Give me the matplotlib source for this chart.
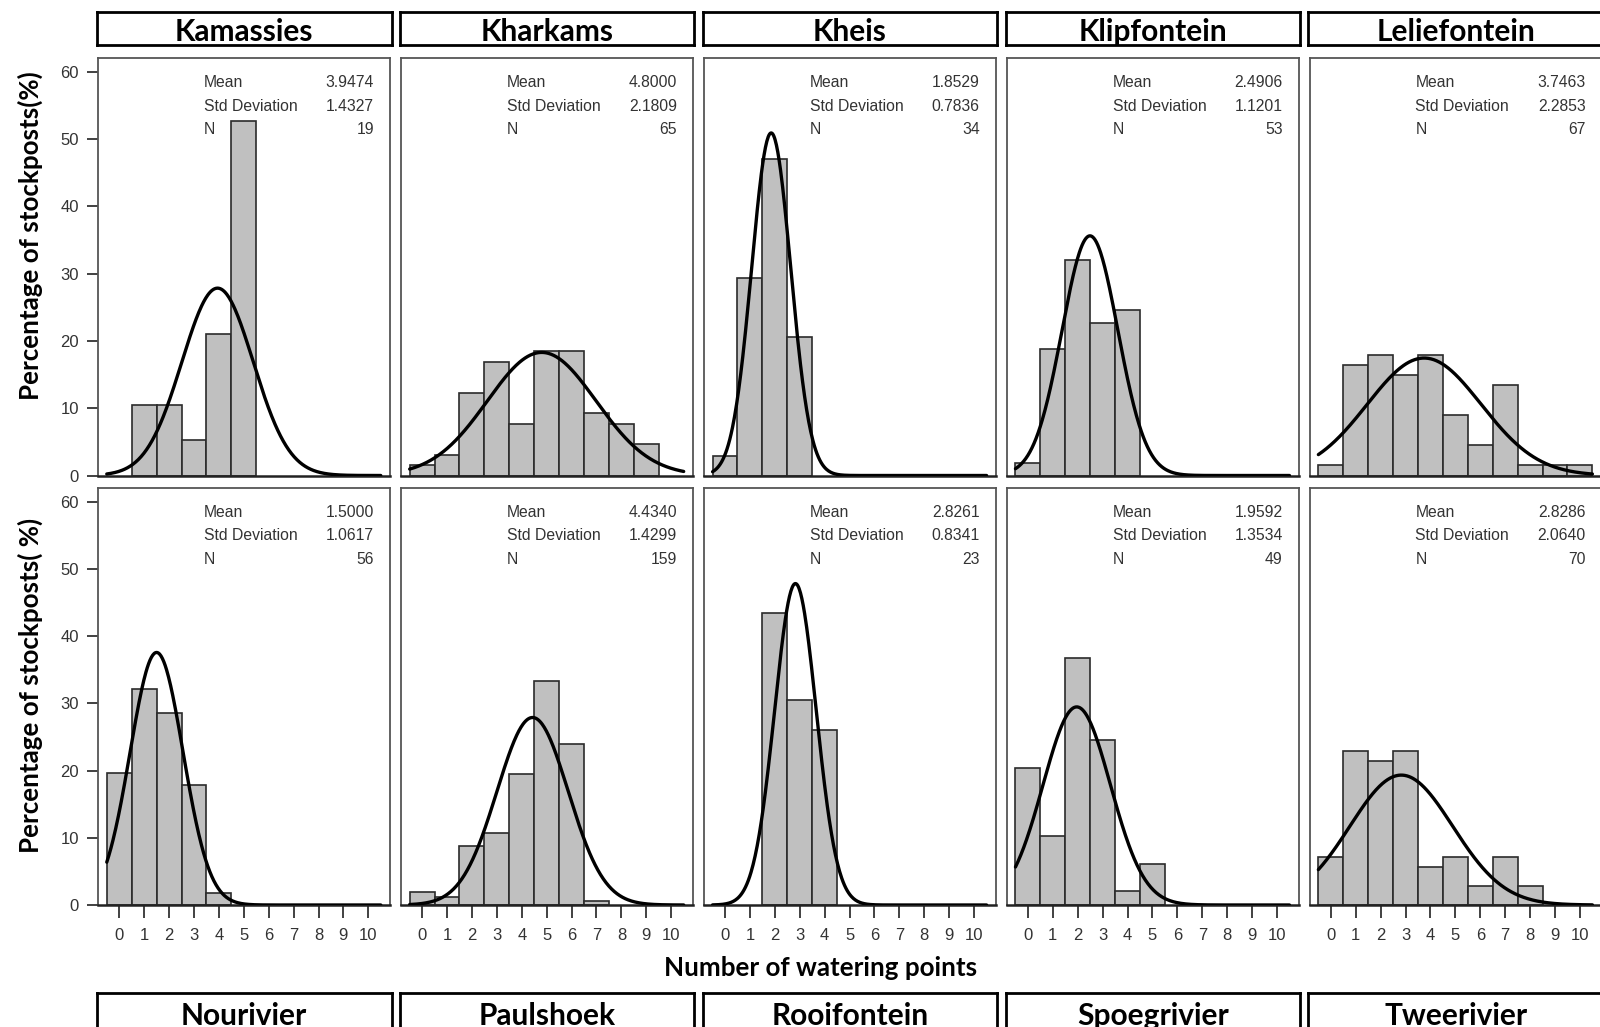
import numpy as np
import matplotlib
matplotlib.use("Agg")
import matplotlib.pyplot as plt

# ---------------- data ----------------
points = list(range(0, 11))  # number of watering points (bins)

sites_top = ["Kamassies", "Kharkams", "Kheis", "Klipfontein", "Leliefontein"]
sites_bottom = ["Nourivier", "Paulshoek", "Rooifontein", "Spoegrivier", "Tweerivier"]

# percentage of stockposts per number of watering points (0..10)
kamassies = [0, 10.53, 10.53, 5.26, 21.05, 52.63, 0, 0, 0, 0, 0]
kharkams = [1.54, 3.08, 12.31, 16.92, 7.69, 18.46, 18.46, 9.23, 7.69, 4.62, 0]
kheis = [2.94, 29.41, 47.06, 20.59, 0, 0, 0, 0, 0, 0, 0]
klipfontein = [1.89, 18.87, 32.08, 22.64, 24.53, 0, 0, 0, 0, 0, 0]
leliefontein = [1.49, 16.42, 17.91, 14.93, 17.91, 8.96, 4.48, 13.43, 1.49, 1.49, 1.49]
nourivier = [19.64, 32.14, 28.57, 17.86, 1.79, 0, 0, 0, 0, 0, 0]
paulshoek = [1.89, 1.26, 8.81, 10.69, 19.50, 33.33, 23.90, 0.63, 0, 0, 0]
rooifontein = [0, 0, 43.48, 30.43, 26.09, 0, 0, 0, 0, 0, 0]
spoegrivier = [20.41, 10.20, 36.73, 24.49, 2.04, 6.12, 0, 0, 0, 0, 0]
tweerivier = [7.14, 22.86, 21.43, 22.86, 5.71, 7.14, 2.86, 7.14, 2.86, 0, 0]

means_top = [3.9474, 4.8000, 1.8529, 2.4906, 3.7463]
stds_top = [1.4327, 2.1809, 0.7836, 1.1201, 2.2853]
ns_top = [19, 65, 34, 53, 67]

means_bottom = [1.5000, 4.4340, 2.8261, 1.9592, 2.8286]
stds_bottom = [1.0617, 1.4299, 0.8341, 1.3534, 2.0640]
ns_bottom = [56, 159, 23, 49, 70]

values_top = [kamassies, kharkams, kheis, klipfontein, leliefontein]
values_bottom = [nourivier, paulshoek, rooifontein, spoegrivier, tweerivier]

ytick_vals = [0, 10, 20, 30, 40, 50, 60]
ylabel_top = "Percentage of stockposts(%)"
ylabel_bottom = "Percentage of stockposts( %)"
xlabel = "Number of watering points"

# ---------------- layout ----------------
W, H = 1600, 1027
fig = plt.figure(figsize=(W / 100, H / 100), dpi=100)
fig.patch.set_facecolor("white")

BOLD = ["Lato", "DejaVu Sans"]
SANS = ["Liberation Sans", "DejaVu Sans"]


def fx(px):
    return px / W


def fy(py):
    return 1 - py / H


col_left = [98.3 + i * 302.9 for i in range(5)]
panel_w = 291.7
row_bounds = [(58, 475.5), (488, 905)]
strip_bounds = [(12, 45), (993, 1035)]
strip_text_y = [0.40, 0.46]

bar_face = "#c0c0c0"
bar_edge = "#2b2b2b"
text_gray = "#333333"

xs = np.linspace(-0.5, 10.5, 400)

rows = [
    (sites_top, values_top, means_top, stds_top, ns_top),
    (sites_bottom, values_bottom, means_bottom, stds_bottom, ns_bottom),
]

for r, (names, vals, means, stds, ns) in enumerate(rows):
    top, bot = row_bounds[r]
    for c in range(5):
        ax = fig.add_axes([fx(col_left[c]), fy(bot), panel_w / W, (bot - top) / H])
        v = np.array(vals[c], dtype=float)
        mask = v > 0
        ax.bar(np.array(points)[mask], v[mask], width=1.0, color=bar_face,
               edgecolor=bar_edge, linewidth=1.2, zorder=2)
        m, s = means[c], stds[c]
        curve = 100.0 / (s * np.sqrt(2 * np.pi)) * np.exp(-0.5 * ((xs - m) / s) ** 2)
        ax.plot(xs, curve, color="black", linewidth=2.4, zorder=3,
                solid_capstyle="round")
        ax.set_xlim(-0.84, 10.87)
        ax.set_ylim(0, 62.05)
        for sp in ax.spines.values():
            sp.set_color("#555555")
            sp.set_linewidth(1.3)
        ax.spines["bottom"].set_color("#222222")
        ax.spines["bottom"].set_linewidth(1.8)

        if r == 1:
            ax.set_xticks(points)
            ax.set_xticklabels([str(p) for p in points])
            ax.tick_params(axis="x", direction="out", length=9, width=1.3,
                           color="#333333", labelsize=12, labelcolor=text_gray,
                           pad=7.5)
            for lab in ax.get_xticklabels():
                lab.set_family(SANS)
        else:
            ax.set_xticks([])
        if c == 0:
            ax.set_yticks(ytick_vals)
            ax.set_yticklabels([str(t) for t in ytick_vals])
            ax.tick_params(axis="y", direction="out", length=8, width=1.3,
                           color="#333333", labelsize=12, labelcolor=text_gray,
                           pad=6)
            for lab in ax.get_yticklabels():
                lab.set_family(SANS)
        else:
            ax.set_yticks([])

        # statistics box
        ylist = [0.941, 0.885, 0.828]
        labels = ["Mean", "Std Deviation", "N"]
        vals_txt = [f"{m:.4f}", f"{s:.4f}", f"{ns[c]}"]
        for yy, lab, vt in zip(ylist, labels, vals_txt):
            ax.text(0.362, yy, lab, transform=ax.transAxes, ha="left", va="center",
                    fontsize=11.3, color=text_gray, family=SANS)
            ax.text(0.945, yy, vt, transform=ax.transAxes, ha="right", va="center",
                    fontsize=11.3, color=text_gray, family=SANS)

        # strip label
        st, sb = strip_bounds[r]
        sax = fig.add_axes([fx(col_left[c] - 1.5), fy(sb), (panel_w + 3) / W, (sb - st) / H])
        sax.set_xticks([])
        sax.set_yticks([])
        for sp in sax.spines.values():
            sp.set_color("black")
            sp.set_linewidth(2.0)
        sax.text(0.5, strip_text_y[r], names[c], transform=sax.transAxes,
                 ha="center", va="center", fontsize=21.5, fontweight="bold",
                 family=BOLD, color="black")

fig.text(fx(30), fy(236), ylabel_top, rotation=90, ha="center", va="center",
         fontsize=18.7, fontweight="bold", family=BOLD)
fig.text(fx(30), fy(685), ylabel_bottom, rotation=90, ha="center", va="center",
         fontsize=18.7, fontweight="bold", family=BOLD)
fig.text(fx(821), fy(968), xlabel, ha="center", va="center",
         fontsize=18.7, fontweight="bold", family=BOLD)

fig.savefig("out.png", dpi=100, facecolor="white")
